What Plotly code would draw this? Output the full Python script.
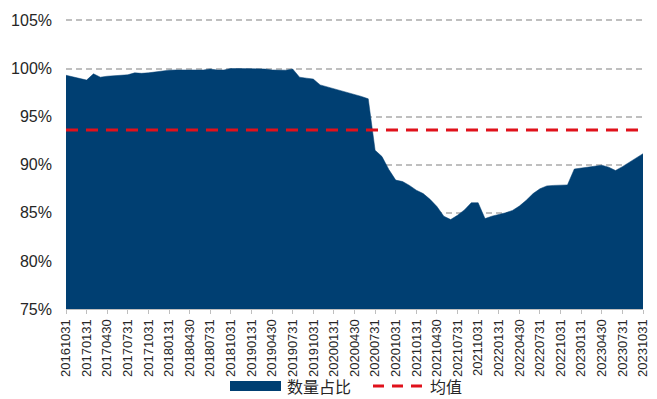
import pandas as pd
import plotly.graph_objects as go

# Monthly "数量占比" values (%), 2016-10-31 .. 2023-10-31
share_values = [
    99.30, 99.15, 99.00, 98.80, 99.45, 99.10, 99.20, 99.25, 99.30, 99.35,
    99.55, 99.50, 99.55, 99.65, 99.75, 99.83, 99.85, 99.85, 99.83, 99.80,
    99.85, 99.95, 99.85, 99.85, 100.0, 100.0, 99.98, 100.0, 100.0, 99.95,
    99.85, 99.83, 99.83, 99.95, 99.10, 99.00, 98.90, 98.30, 98.10, 97.95,
    97.70, 97.50, 97.35, 97.10, 96.85, 91.50, 90.85, 89.50, 88.40, 88.25,
    87.85, 87.35, 87.00, 86.40, 85.65, 84.65, 84.30, 84.75, 85.30, 86.05,
    86.05, 84.40, 84.65, 84.80, 85.00, 85.25, 85.70, 86.30, 87.00, 87.50,
    87.80, 87.85, 87.90, 87.90, 89.55, 89.65, 89.75, 89.85, 89.95, 89.75,
    89.40, 89.80, 90.25, 90.65, 91.15,
]
mean_value = 93.6

dates = [d.strftime("%Y%m%d") for d in pd.date_range("2016-10-31", periods=len(share_values), freq="ME")]

tick_labels = [
    "20161031", "20170131", "20170430", "20170731", "20171031", "20180131",
    "20180430", "20180731", "20181031", "20190131", "20190430", "20190731",
    "20191031", "20200131", "20200430", "20200731", "20201031", "20210131",
    "20210430", "20210731", "20211031", "20220131", "20220430", "20220731",
    "20221031", "20230131", "20230430", "20230731", "20231031",
]
y_ticks = [75, 80, 85, 90, 95, 100, 105]

series_name = "数量占比"
mean_name = "均值"

BLUE = "#003F72"
RED = "#E0111B"
GRID = "#BFBFBF"

fig = go.Figure()
fig.add_trace(go.Scatter(
    x=dates, y=share_values, mode="lines", name=series_name,
    fill="tozeroy", fillcolor=BLUE, line=dict(color=BLUE, width=0.5),
    showlegend=False,
))
fig.add_trace(go.Scatter(
    x=dates, y=[mean_value] * len(dates), mode="lines", name=mean_name,
    line=dict(color=RED, width=3, dash="12px,8px"), showlegend=False,
))

# page body has an 8px margin: figure origin sits at (8, 8) on screen
OFF = 8
W, H = 657 - OFF, 399 - OFF
L, T = 66 - OFF, 19 - OFF
R = W - (643 - OFF)
B = H - (309 - OFF)
pw, ph = W - L - R, H - T - B

def px(x):  # screen x -> paper
    return (x - OFF - L) / pw

def py(y):  # screen y -> paper
    return (H - B - (y - OFF)) / ph

shapes = [
    dict(type="rect", xref="paper", yref="paper", x0=px(230), x1=px(281),
         y0=py(391), y1=py(381), fillcolor=BLUE, line=dict(width=0)),
    dict(type="line", xref="paper", yref="paper", x0=px(373), x1=px(424),
         y0=py(386), y1=py(386), line=dict(color=RED, width=3, dash="11px,8px")),
]
annotations = [
    dict(xref="paper", yref="paper", x=px(285), y=py(386), text=series_name,
         showarrow=False, xanchor="left", yanchor="middle",
         font=dict(family="Noto Sans CJK SC", size=16, color="#262626")),
    dict(xref="paper", yref="paper", x=px(428), y=py(386), text=mean_name,
         showarrow=False, xanchor="left", yanchor="middle",
         font=dict(family="Noto Sans CJK SC", size=16, color="#262626")),
]

fig.update_layout(
    width=W, height=H,
    margin=dict(l=L, r=R, t=T, b=B, autoexpand=False),
    plot_bgcolor="white", paper_bgcolor="white",
    font=dict(family="Liberation Sans, Arial, sans-serif", color="#262626"),
    shapes=shapes, annotations=annotations,
    showlegend=False,
)
fig.update_xaxes(
    type="category", range=[0, len(dates) - 1], automargin=False,
    tickmode="array", tickvals=tick_labels, ticktext=tick_labels,
    tickangle=-90, tickfont=dict(size=13),
    showgrid=False, showline=True, linecolor=GRID, linewidth=1,
    ticks="outside", ticklen=4, tickcolor=GRID, zeroline=False,
)
fig.update_yaxes(
    range=[75, 105.15], automargin=False, tickmode="array", tickvals=y_ticks,
    ticktext=[f"{v}%" for v in y_ticks], tickfont=dict(size=16),
    showgrid=True, gridcolor=GRID, gridwidth=1.5, griddash="6px,4px",
    zeroline=False, showline=False, ticks="", ticklabelstandoff=13,
)

fig.write_html("out.html")
